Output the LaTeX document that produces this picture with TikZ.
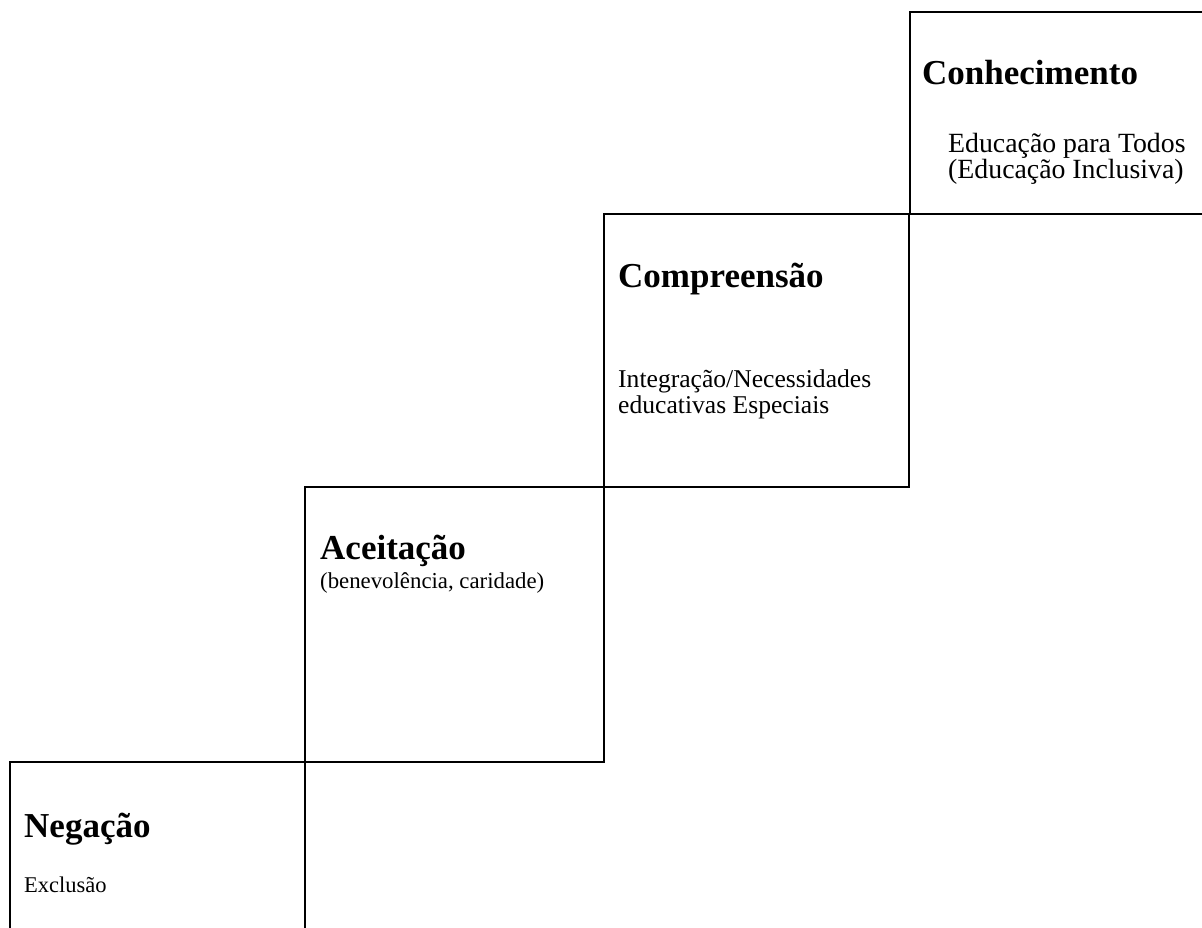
\documentclass[tikz,border=0pt]{standalone}
\usepackage{fontspec}
\setmainfont{Liberation Serif}
\begin{document}
\begin{tikzpicture}[x=1pt,y=-1pt,
  stepline/.style={line width=2.4pt, line join=miter},
  title/.style={anchor=base west, inner sep=0pt, font=\fontsize{35}{40}\selectfont\bfseries},
  body/.style={anchor=base west, inner sep=0pt, font=\fontsize{24}{26}\selectfont}]
\useasboundingbox (0,0) rectangle (1202,928);
\clip (0,0) rectangle (1202,928);
% boxes
\draw[stepline] (910,12) rectangle (1220,214);
\draw[stepline] (604,214) rectangle (909,487);
\draw[stepline] (305,487) rectangle (604,762);
\draw[stepline] (10,762) rectangle (305,940);
% texts
\node[title] (t4) at (922,85) {Conhecimento};
\node[body, font=\fontsize{27.8}{29}\selectfont] (b4a) at (948,153) {Educação para Todos};
\node[body, font=\fontsize{27.8}{29}\selectfont] (b4b) at (948,179) {(Educação Inclusiva)};
\node[title] (t3) at (618,287) {Compreensão};
\node[body, font=\fontsize{25.6}{27}\selectfont] (b3a) at (618,387) {Integração/Necessidades};
\node[body, font=\fontsize{25.6}{27}\selectfont] (b3b) at (618,413) {educativas Especiais};
\node[title] (t2) at (320,559) {Aceitação};
\node[body, font=\fontsize{22.8}{25}\selectfont] (b2a) at (320,588) {(benevolência, caridade)};
\node[title] (t1) at (24,837) {Negação};
\node[body, font=\fontsize{22.5}{25}\selectfont] (b1a) at (24,892) {Exclusão};
\end{tikzpicture}
\end{document}
